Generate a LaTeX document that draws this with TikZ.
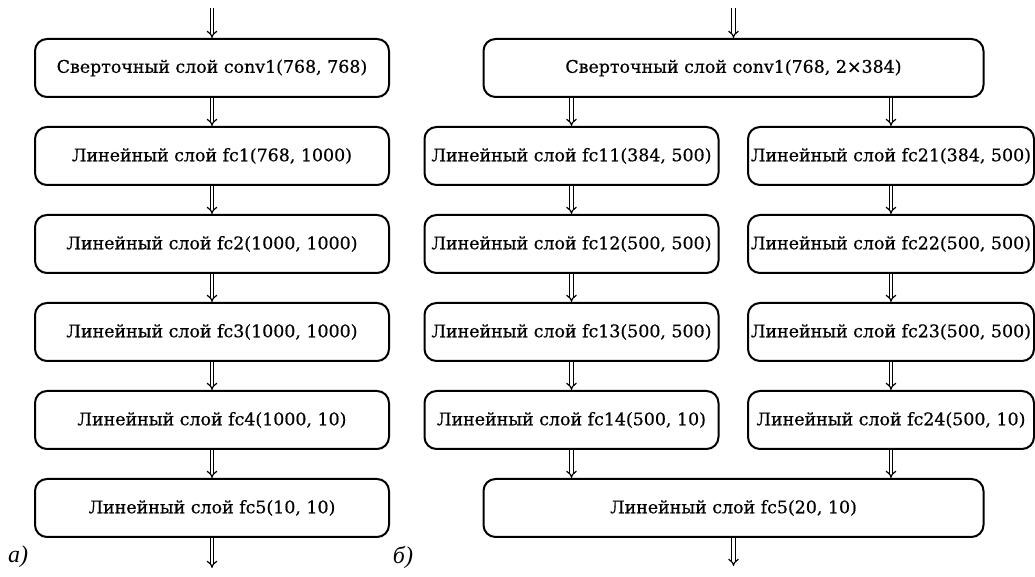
\documentclass[tikz,border=0pt]{standalone}
\usepackage{fontspec}
\setmainfont{DejaVu Serif}
\newfontfamily\layerfont[FakeBold=0.6]{DejaVu Serif}
\newfontfamily\capfont{Liberation Serif}
\usetikzlibrary{arrows.meta}

\begin{document}
\begin{tikzpicture}[x=0.5pt,y=-0.5pt,
	layer_node/.style={draw,line width=1pt,rounded corners=6pt,minimum height=29pt,inner sep=1pt,font=\layerfont\fontsize{8.7}{10}\selectfont},
	left_node/.style={layer_node,minimum width=177pt},
	wide_node/.style={layer_node,minimum width=250pt},
	branch1_node/.style={layer_node,minimum width=147pt},
	branch2_node/.style={layer_node,minimum width=143pt},
	caption_node/.style={font=\capfont\itshape\fontsize{12}{14}\selectfont},
	flow/.style={double,double distance=1.2pt,line width=0.6pt,-{Implies[scale=1.35]}}]
	
	\useasboundingbox (0,0) rectangle (1035,577);
	
	% a)
	\coordinate (in_a) at (212,8);
	\node[left_node] (conv1) at (212,68) {Сверточный слой conv1(768, 768)};
	\node[left_node] (fc1) at (212,156) {Линейный слой fc1(768, 1000)};
	\node[left_node] (fc2) at (212,244) {Линейный слой fc2(1000, 1000)};
	\node[left_node] (fc3) at (212,332) {Линейный слой fc3(1000, 1000)};
	\node[left_node] (fc4) at (212,420) {Линейный слой fc4(1000, 10)};
	\node[left_node] (fc5) at (212,508) {Линейный слой fc5(10, 10)};
	\coordinate (out_a) at (212,568);
	\node[caption_node] (cap_a) at (18,557) {а)};
	
	\draw[flow] (in_a) -- (conv1);
	\draw[flow] (conv1) -- (fc1);
	\draw[flow] (fc1) -- (fc2);
	\draw[flow] (fc2) -- (fc3);
	\draw[flow] (fc3) -- (fc4);
	\draw[flow] (fc4) -- (fc5);
	\draw[flow] (fc5) -- (out_a);
	
	% b)
	\coordinate (in_b) at (733.5,8);
	\node[wide_node] (conv1b) at (733.5,68) {Сверточный слой conv1(768, 2×384)};
	\node[branch1_node] (fc11) at (571.5,156) {Линейный слой fc11(384, 500)};
	\node[branch1_node] (fc12) at (571.5,244) {Линейный слой fc12(500, 500)};
	\node[branch1_node] (fc13) at (571.5,332) {Линейный слой fc13(500, 500)};
	\node[branch1_node] (fc14) at (571.5,420) {Линейный слой fc14(500, 10)};
	\node[branch2_node] (fc21) at (891,156) {Линейный слой fc21(384, 500)};
	\node[branch2_node] (fc22) at (891,244) {Линейный слой fc22(500, 500)};
	\node[branch2_node] (fc23) at (891,332) {Линейный слой fc23(500, 500)};
	\node[branch2_node] (fc24) at (891,420) {Линейный слой fc24(500, 10)};
	\node[wide_node] (fc5b) at (733.5,508) {Линейный слой fc5(20, 10)};
	\coordinate (out_b) at (733.5,566);
	\node[caption_node] (cap_b) at (403,557) {б)};
	
	\draw[flow] (in_b) -- (conv1b);
	\draw[flow] (conv1b.south -| fc11.north) -- (fc11.north);
	\draw[flow] (conv1b.south -| fc21.north) -- (fc21.north);
	\draw[flow] (fc11) -- (fc12);
	\draw[flow] (fc12) -- (fc13);
	\draw[flow] (fc13) -- (fc14);
	\draw[flow] (fc21) -- (fc22);
	\draw[flow] (fc22) -- (fc23);
	\draw[flow] (fc23) -- (fc24);
	\draw[flow] (fc14.south) -- (fc14.south |- fc5b.north);
	\draw[flow] (fc24.south) -- (fc24.south |- fc5b.north);
	\draw[flow] (fc5b) -- (out_b);
\end{tikzpicture}
\end{document}
